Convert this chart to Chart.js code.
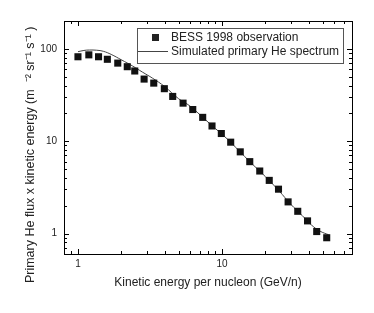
<!DOCTYPE html>
<html>
<head>
<meta charset="utf-8">
<script src="https://cdn.jsdelivr.net/npm/chart.js@4.4.1/dist/chart.umd.min.js"></script>
<style>
  html, body { margin: 0; padding: 0; background: #fff; }
</style>
</head>
<body>
<canvas id="grafico_he" width="374" height="313"></canvas>
<script>

// BESS 1998 points (GeV/n, flux x energy)
var energia = [1.0, 1.19, 1.39, 1.6, 1.89, 2.2, 2.48, 2.88, 3.36, 3.98, 4.55, 5.37, 6.27, 7.35,
  8.53, 9.9, 11.5, 13.4, 15.6, 18.3, 21.3, 24.7, 28.8, 33.6, 39.3, 45.5, 53.4];
var fluxoBess = [82, 86, 82, 77, 70, 64, 57.5, 47, 42.5, 37, 30.5, 25.8, 22, 18.1,
  14.6, 12.1, 9.75, 7.66, 6.0, 4.75, 3.76, 3.02, 2.2, 1.74, 1.37, 1.05, 0.90];

// simulated spectrum
var energiaSim = [1, 1.1, 1.2, 1.35, 1.5, 1.7, 2, 2.4, 2.8, 3.3, 4, 5, 6, 7.5, 9, 11, 13,
  16, 20, 25, 30, 36, 42, 48, 55];
var fluxoSim = [93, 96, 97, 96.5, 94, 87, 76, 65, 56, 48, 39, 28.8, 24, 17.6, 13.7, 10.4, 8.0,
  5.78, 4.14, 2.88, 2.08, 1.57, 1.23, 1.06, 0.97];

var ticksX = [1, 10];
var ticksY = [1, 10, 100];

var fonte = "'Liberation Sans', Arial, sans-serif";

function pontos(xs, ys) {
  var lista = [];
  for (var i = 0; i < xs.length; i++) {
    lista.push({ x: xs[i], y: ys[i] });
  }
  return lista;
}

function valoresMenores(min, max) {
  var vals = [];
  for (var e = -1; e <= 2; e++) {
    for (var m = 1; m < 10; m++) {
      var v = m * Math.pow(10, e);
      if (v >= min * 0.999 && v <= max * 1.001) vals.push(v);
    }
  }
  return vals;
}

// frame with inward ticks on all four sides
var molduraPlugin = {
  id: 'moldura',
  afterDatasetsDraw: function(chart) {
    var ctx = chart.ctx;
    var a = chart.chartArea;
    var sx = chart.scales.x;
    var sy = chart.scales.y;
    ctx.save();
    ctx.strokeStyle = '#000';
    ctx.lineWidth = 1;
    ctx.strokeRect(Math.round(a.left) + 0.5, Math.round(a.top) + 0.5,
      Math.round(a.right - a.left), Math.round(a.bottom - a.top));

    ctx.beginPath();
    valoresMenores(sx.min, sx.max).forEach(function(v) {
      var px = Math.round(sx.getPixelForValue(v)) + 0.5;
      var len = ticksX.indexOf(v) >= 0 ? 5 : 3;
      ctx.moveTo(px, a.bottom); ctx.lineTo(px, a.bottom - len);
      ctx.moveTo(px, a.top); ctx.lineTo(px, a.top + len);
    });
    valoresMenores(sy.min, sy.max).forEach(function(v) {
      var py = Math.round(sy.getPixelForValue(v)) + 0.5;
      var len = ticksY.indexOf(v) >= 0 ? 5 : 3;
      ctx.moveTo(a.left, py); ctx.lineTo(a.left + len, py);
      ctx.moveTo(a.right, py); ctx.lineTo(a.right - len, py);
    });
    ctx.stroke();
    ctx.restore();
  },
  afterDraw: function(chart) {
    // legend box inside the plot
    var ctx = chart.ctx;
    var ds = chart.data.datasets;
    ctx.save();
    ctx.strokeStyle = '#555';
    ctx.lineWidth = 1;
    ctx.strokeRect(137.5, 28.5, 206, 35);
    ctx.font = '12px ' + fonte;
    ctx.fillStyle = '#222';
    ctx.textBaseline = 'middle';
    ctx.fillRect(152, 34, 7, 7);
    ctx.fillText(ds[0].label, 171, 38);
    ctx.strokeStyle = ds[1].borderColor;
    ctx.beginPath();
    ctx.moveTo(138, 51.5); ctx.lineTo(168, 51.5);
    ctx.stroke();
    ctx.fillText(ds[1].label, 171, 52);
    ctx.restore();
  }
};

new Chart(document.getElementById('grafico_he'), {
  type: 'scatter',
  data: {
    datasets: [
      {
        label: 'BESS 1998 observation',
        data: pontos(energia, fluxoBess),
        pointStyle: 'rect',
        pointRadius: 5,
        backgroundColor: '#111',
        borderColor: '#111',
        borderWidth: 0,
        order: 1
      },
      {
        label: 'Simulated primary He spectrum',
        data: pontos(energiaSim, fluxoSim),
        showLine: true,
        pointRadius: 0,
        borderColor: '#444',
        borderWidth: 1,
        tension: 0.4,
        order: 2
      }
    ]
  },
  options: {
    responsive: false,
    animation: false,
    devicePixelRatio: 1,
    layout: { padding: { top: 21, right: 22, left: 0, bottom: 0 } },
    plugins: {
      legend: { display: false },
      tooltip: { enabled: false }
    },
    scales: {
      x: {
        type: 'logarithmic',
        min: 0.8,
        max: 80,
        afterBuildTicks: function(scale) {
          scale.ticks = ticksX.map(function(v) { return { value: v }; });
        },
        afterFit: function(scale) { scale.height = 59; },
        grid: { display: false, drawTicks: false },
        border: { display: false },
        ticks: {
          padding: 4,
          color: '#222',
          font: { family: fonte, size: 10 },
          maxRotation: 0,
          callback: function(v) { return String(v); }
        },
        title: {
          display: true,
          text: 'Kinetic energy per nucleon (GeV/n)',
          color: '#222',
          font: { family: fonte, size: 12 },
          padding: { top: 0, bottom: 23 }
        }
      },
      y: {
        type: 'logarithmic',
        min: 0.6,
        max: 200,
        afterBuildTicks: function(scale) {
          scale.ticks = ticksY.map(function(v) { return { value: v }; });
        },
        afterFit: function(scale) { scale.width = 64; },
        grid: { display: false, drawTicks: false },
        border: { display: false },
        ticks: {
          padding: 7,
          color: '#222',
          font: { family: fonte, size: 10 },
          callback: function(v) { return String(v); }
        },
        title: {
          display: true,
          // trailing spaces push the rotated text down a little, like the original
          text: 'Primary He flux x kinetic energy (m  \u207B\u00B2 sr\u207B\u00B9 s\u207B\u00B9 )          ',
          color: '#222',
          font: { family: fonte, size: 12.5 },
          padding: { top: 23, bottom: 0 }
        }
      }
    }
  },
  plugins: [molduraPlugin]
});

</script>
</body>
</html>
